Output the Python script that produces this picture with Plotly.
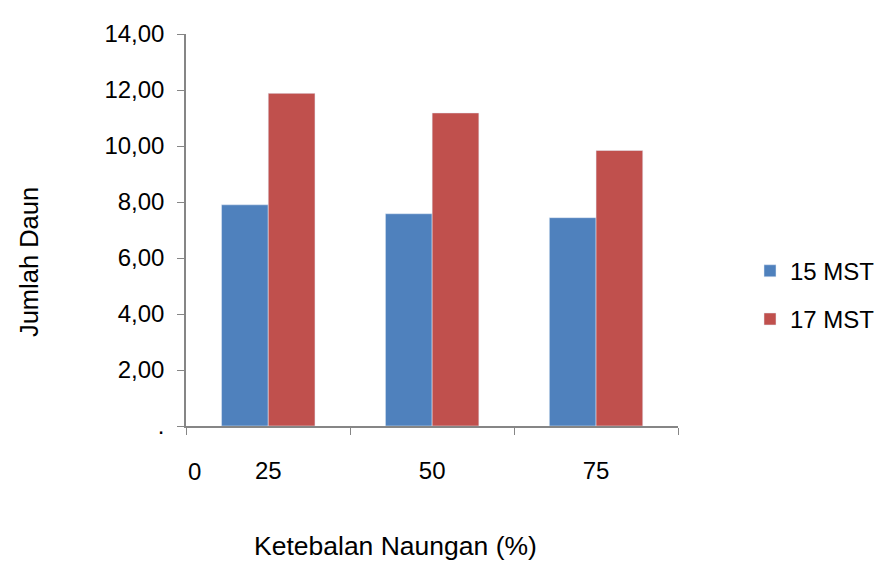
import plotly.graph_objects as go

categories = ["25", "50", "75"]
mst15 = [7.90, 7.58, 7.44]
mst17 = [11.88, 11.18, 9.84]
y_ticks = [0, 2, 4, 6, 8, 10, 12, 14]
y_ticktext = [".", "2,00", "4,00", "6,00", "8,00", "10,00", "12,00", "14,00"]

FONT = "Liberation Sans, Arial, sans-serif"

# screen-space plot area (page body has an 8px margin)
PL, PR, PT, PB = 186, 678, 29, 426
PW, PH = PR - PL, PB - PT

fig = go.Figure()
fig.add_trace(go.Bar(x=categories, y=mst15, name="15 MST", marker_color="#4F81BD",
                     legendgroup="a"))
fig.add_trace(go.Bar(x=categories, y=mst17, name="17 MST", marker_color="#C0504D",
                     legendgroup="b"))

fig.update_layout(
    width=890, height=562,
    margin=dict(l=PL - 8, r=890 - (PR - 8), t=PT - 8, b=562 - (PB - 8)),
    paper_bgcolor="white", plot_bgcolor="white",
    barmode="group", bargap=0.43, bargroupgap=0,
    font=dict(family=FONT, size=24, color="black"),
    showlegend=True,
    legend=dict(x=(750 - PL) / PW, y=(PB - 293.5) / PH, xanchor="left", yanchor="middle",
                font=dict(size=24), itemwidth=30, tracegroupgap=14,
                bgcolor="rgba(0,0,0,0)"),
    xaxis=dict(type="category", showline=True, linecolor="#868686", linewidth=1.5,
               ticks="outside", tickson="boundaries", ticklen=7, tickcolor="#868686",
               ticklabelstandoff=22, showgrid=False, tickfont=dict(size=24)),
    yaxis=dict(range=[0, 14], tickvals=y_ticks, ticktext=y_ticktext,
               showline=True, linecolor="#868686", linewidth=1.5,
               ticks="outside", ticklen=7, tickcolor="#868686",
               ticklabelstandoff=8, showgrid=False, zeroline=False,
               tickfont=dict(size=24)),
)

fig.add_annotation(text="0", x=-0.45, y=0, xref="x", yref="paper",
                   yanchor="middle", yshift=-45, showarrow=False, font=dict(size=24))
fig.add_annotation(text="Ketebalan Naungan (%)", x=(395 - PL) / PW, y=-(548 - PB) / PH,
                   xref="paper", yref="paper", xanchor="center", yanchor="middle",
                   showarrow=False, font=dict(size=26.5))
fig.add_annotation(text="Jumlah Daun", x=(29 - PL) / PW, y=(PB - 260) / PH,
                   xref="paper", yref="paper", xanchor="center", yanchor="middle",
                   textangle=-90, showarrow=False, font=dict(size=25.5))

fig.write_html("out.html")
